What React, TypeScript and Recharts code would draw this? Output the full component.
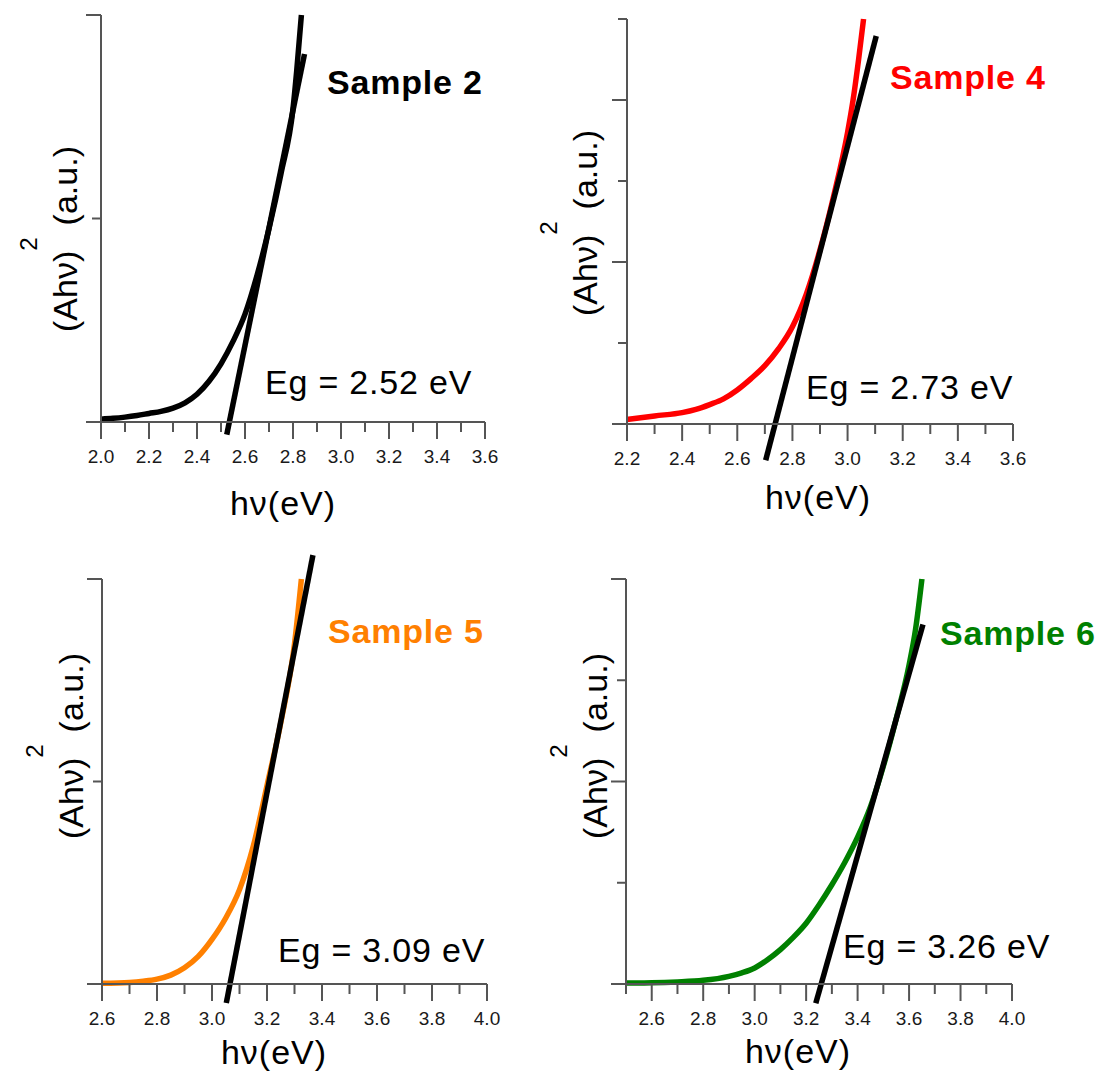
// Tauc plots (Ahν)^2 vs hν for four samples, 2x2 grid

import { LineChart, Line, XAxis, YAxis, ReferenceLine } from 'recharts'

const FONT = 'Arial, "Liberation Sans", sans-serif'
const AXIS = '#555555'
const TICK_TXT = '#1a1a1a'

// ── Sample 2 (black) ──
const S2_HV = [2.0, 2.05, 2.1, 2.15, 2.2, 2.25, 2.3, 2.35, 2.4, 2.45, 2.5, 2.55, 2.6, 2.65, 2.7, 2.75, 2.8, 2.815, 2.835]
const S2_ABS = [0.007, 0.009, 0.012, 0.016, 0.021, 0.026, 0.034, 0.047, 0.068, 0.1, 0.143, 0.198, 0.265, 0.36, 0.475, 0.61, 0.77, 0.86, 1.0]
const S2_FIT_HV = [2.524, 2.848]
const S2_FIT_ABS = [-0.031, 0.904]
const S2_XTICKS = [2.0, 2.1, 2.2, 2.3, 2.4, 2.5, 2.6, 2.7, 2.8, 2.9, 3.0, 3.1, 3.2, 3.3, 3.4, 3.5, 3.6]
const S2_YTICKS = [0, 0.5, 1]
const S2_YMAJOR = [0, 1]

// ── Sample 4 (red) ──
const S4_HV = [2.2, 2.3, 2.4, 2.45, 2.5, 2.55, 2.6, 2.65, 2.7, 2.75, 2.8, 2.85, 2.9, 2.95, 3.0, 3.02, 3.04, 3.058]
const S4_ABS = [0.055, 0.1, 0.14, 0.18, 0.24, 0.31, 0.42, 0.56, 0.72, 0.93, 1.2, 1.6, 2.15, 2.82, 3.6, 4.0, 4.5, 5.0]
const S4_FIT_HV = [2.703, 3.104]
const S4_FIT_ABS = [-0.447, 4.79]
const S4_XTICKS = [2.2, 2.3, 2.4, 2.5, 2.6, 2.7, 2.8, 2.9, 3.0, 3.1, 3.2, 3.3, 3.4, 3.5, 3.6]
const S4_YTICKS = [0, 1, 2, 3, 4, 5]
const S4_YMAJOR = [0, 2, 4]

// ── Sample 5 (orange) ──
const S5_HV = [2.6, 2.7, 2.75, 2.8, 2.85, 2.9, 2.95, 3.0, 3.05, 3.1, 3.15, 3.2, 3.25, 3.3, 3.325]
const S5_ABS = [0.002, 0.004, 0.007, 0.012, 0.022, 0.04, 0.068, 0.11, 0.163, 0.233, 0.34, 0.49, 0.645, 0.84, 1.0]
const S5_FIT_HV = [3.052, 3.367]
const S5_FIT_ABS = [-0.047, 1.059]
const S5_XTICKS = [2.6, 2.7, 2.8, 2.9, 3.0, 3.1, 3.2, 3.3, 3.4, 3.5, 3.6, 3.7, 3.8, 3.9, 4.0]
const S5_YTICKS = [0, 0.5, 1]
const S5_YMAJOR = [0, 1]

// ── Sample 6 (green) ──
const S6_HV = [2.5, 2.6, 2.7, 2.8, 2.9, 2.95, 3.0, 3.05, 3.1, 3.15, 3.2, 3.25, 3.3, 3.35, 3.4, 3.45, 3.5, 3.55, 3.6, 3.625, 3.65]
const S6_ABS = [0.01, 0.012, 0.02, 0.036, 0.076, 0.11, 0.158, 0.24, 0.34, 0.46, 0.6, 0.78, 0.98, 1.2, 1.45, 1.75, 2.15, 2.62, 3.15, 3.5, 4.0]
const S6_FIT_HV = [3.2375, 3.654]
const S6_FIT_ABS = [-0.19, 3.55]
const S6_XTICKS = [2.5, 2.6, 2.7, 2.8, 2.9, 3.0, 3.1, 3.2, 3.3, 3.4, 3.5, 3.6, 3.7, 3.8, 3.9, 4.0]
const S6_YTICKS = [0, 1, 2, 3, 4]
const S6_YMAJOR = [0, 2, 4]

const SAMPLE_NAMES = ['Sample 2', 'Sample 4', 'Sample 5', 'Sample 6']
const EG_LABELS = ['Eg = 2.52 eV', 'Eg = 2.73 eV', 'Eg = 3.09 eV', 'Eg = 3.26 eV']
const COLORS = ['#000000', '#ff0000', '#ff8000', '#008000']
const X_TITLE = 'hν(eV)'

type Panel = {
  hv: number[]; abs: number[]; fitHv: number[]; fitAbs: number[]
  xTicks: number[]; yTicks: number[]; yMajor: number[]
  color: string
  left: number; top: number; width: number; height: number
  margin: { top: number; right: number; bottom: number; left: number }
  // overlay text positions (page pixels)
  name: [number, number]; eg: [number, number]; xTitle: [number, number]; yTitle: [number, number]
}

// plot area = margin + 1px axis band on left / bottom
const PANELS: Panel[] = [
  {
    hv: S2_HV, abs: S2_ABS, fitHv: S2_FIT_HV, fitAbs: S2_FIT_ABS,
    xTicks: S2_XTICKS, yTicks: S2_YTICKS, yMajor: S2_YMAJOR, color: COLORS[0],
    left: 0, top: 0, width: 550, height: 540,
    margin: { top: 15, right: 65, bottom: 117, left: 100 },
    name: [327, 94], eg: [265, 394], xTitle: [283, 515], yTitle: [77, 239],
  },
  {
    hv: S4_HV, abs: S4_ABS, fitHv: S4_FIT_HV, fitAbs: S4_FIT_ABS,
    xTicks: S4_XTICKS, yTicks: S4_YTICKS, yMajor: S4_YMAJOR, color: COLORS[1],
    left: 520, top: 0, width: 560, height: 540,
    margin: { top: 19, right: 67, bottom: 115, left: 106 },
    name: [890, 89], eg: [806, 399], xTitle: [818, 509], yTitle: [597, 223],
  },
  {
    hv: S5_HV, abs: S5_ABS, fitHv: S5_FIT_HV, fitAbs: S5_FIT_ABS,
    xTicks: S5_XTICKS, yTicks: S5_YTICKS, yMajor: S5_YMAJOR, color: COLORS[2],
    left: 0, top: 540, width: 550, height: 535,
    margin: { top: 39, right: 63, bottom: 90, left: 101 },
    name: [328, 643], eg: [278, 962], xTitle: [274, 1064], yTitle: [83, 746],
  },
  {
    hv: S6_HV, abs: S6_ABS, fitHv: S6_FIT_HV, fitAbs: S6_FIT_ABS,
    xTicks: S6_XTICKS, yTicks: S6_YTICKS, yMajor: S6_YMAJOR, color: COLORS[3],
    left: 520, top: 540, width: 581, height: 535,
    margin: { top: 39, right: 89, bottom: 90, left: 105 },
    name: [940, 645], eg: [843, 958], xTitle: [798, 1063], yTitle: [607, 746],
  },
]

// bottom ticks: long + label on even tenths, short otherwise
function XTick({ x, y, payload }: any) {
  const v = payload.value as number
  const major = Math.round(v * 10) % 2 === 0
  return (
    <g>
      <line x1={x} x2={x} y1={y} y2={y + (major ? 17 : 10)} stroke={AXIS} strokeWidth={2} />
      {major && (
        <text x={x} y={y + 41} textAnchor="middle" fontSize={19} fontFamily={FONT} fill={TICK_TXT}>
          {v.toFixed(1)}
        </text>
      )}
    </g>
  )
}

function YTick({ x, y, payload, majors }: any) {
  const major = majors.includes(payload.value)
  return <line x1={x - (major ? 15 : 9)} x2={x} y1={y} y2={y} stroke={AXIS} strokeWidth={2} />
}

function TaucPanel({ p }: { p: Panel }) {
  const data = p.hv.map((hv, i) => ({ hv, a: p.abs[i] }))
  const top = p.yTicks[p.yTicks.length - 1]
  return (
    <div style={{ position: 'absolute', left: p.left, top: p.top }}>
      <LineChart width={p.width} height={p.height} data={data} margin={p.margin}>
        <XAxis
          dataKey="hv" type="number"
          domain={[p.xTicks[0], p.xTicks[p.xTicks.length - 1]]}
          ticks={p.xTicks} interval={0} height={1}
          tickSize={0} tickMargin={0} tickLine={false}
          axisLine={{ stroke: AXIS, strokeWidth: 2 }}
          tick={(t: any) => <XTick {...t} />}
        />
        <YAxis
          type="number" domain={[0, top]}
          ticks={p.yTicks} interval={0} width={1}
          tickSize={0} tickMargin={0} tickLine={false}
          axisLine={{ stroke: AXIS, strokeWidth: 2 }}
          tick={(t: any) => <YTick {...t} majors={p.yMajor} />}
        />
        <Line
          dataKey="a" type="monotone" stroke={p.color} strokeWidth={5.5}
          dot={false} activeDot={false} isAnimationActive={false}
        />
        <ReferenceLine
          segment={[{ x: p.fitHv[0], y: p.fitAbs[0] }, { x: p.fitHv[1], y: p.fitAbs[1] }]}
          stroke="#000" strokeWidth={5.5} ifOverflow="visible"
        />
      </LineChart>
    </div>
  )
}

export default function App() {
  return (
    <div style={{ position: 'absolute', left: 0, top: 0, width: 1101, height: 1075, background: '#fff', overflow: 'hidden' }}>
      {PANELS.map((p, i) => <TaucPanel key={i} p={p} />)}
      <svg width={1101} height={1075} style={{ position: 'absolute', left: 0, top: 0, pointerEvents: 'none' }}>
        {PANELS.map((p, i) => (
          <g key={i} fontFamily={FONT}>
            <text x={p.name[0]} y={p.name[1]} fontSize={34} fontWeight="bold" letterSpacing={0.8} fill={COLORS[i]}>
              {SAMPLE_NAMES[i]}
            </text>
            <text x={p.eg[0]} y={p.eg[1]} fontSize={34} letterSpacing={0.8} fill="#000">
              {EG_LABELS[i]}
            </text>
            <text x={p.xTitle[0]} y={p.xTitle[1]} fontSize={34} letterSpacing={1} textAnchor="middle" fill="#000">
              {X_TITLE}
            </text>
            <text transform={`translate(${p.yTitle[0]} ${p.yTitle[1]}) rotate(-90)`} textAnchor="middle" fontSize={34} fill="#000">
              <tspan>(Ahν)</tspan>
              <tspan dy={-40} fontSize={24}>2</tspan>
              <tspan dy={40} dx={12}>(a.u.)</tspan>
            </text>
          </g>
        ))}
      </svg>
    </div>
  )
}
